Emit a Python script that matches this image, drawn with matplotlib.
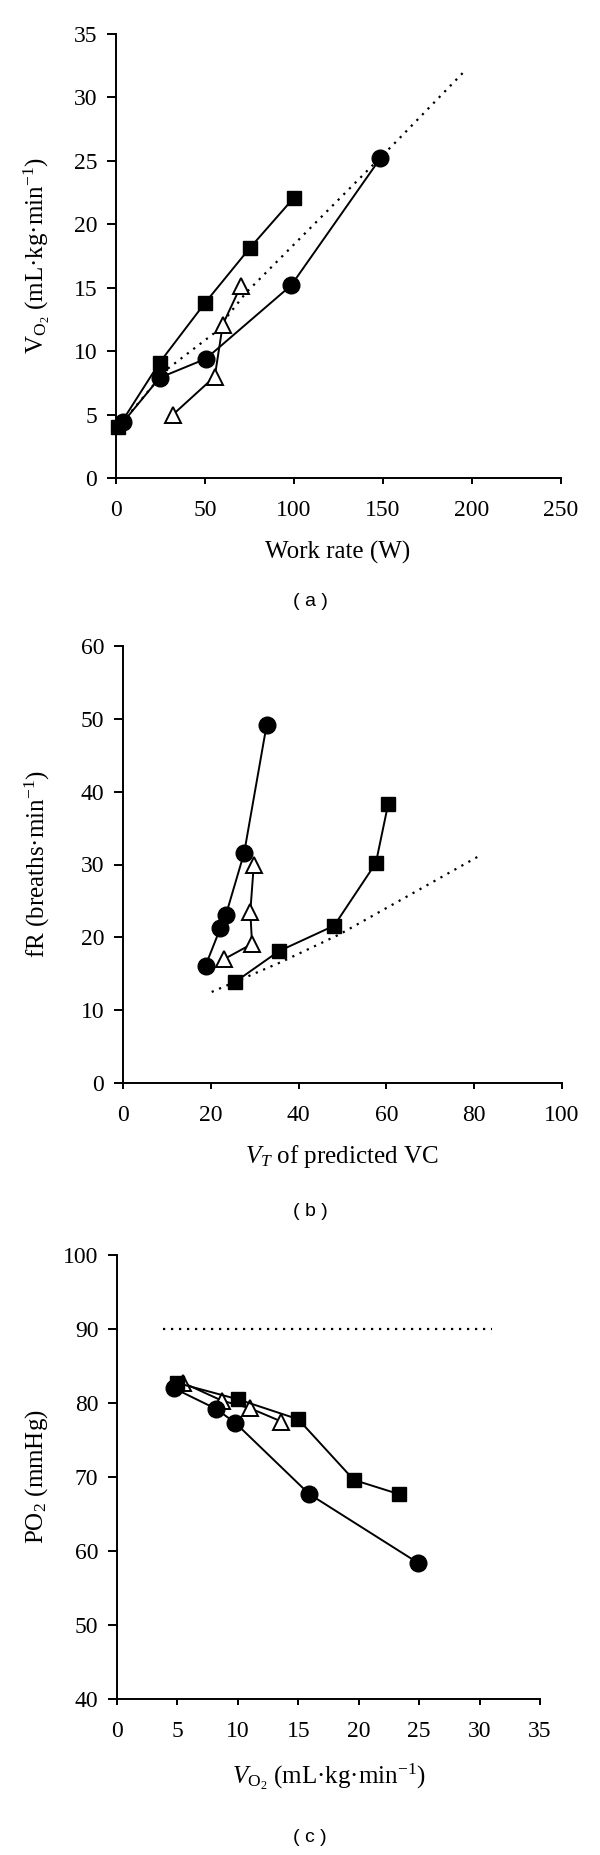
import matplotlib
matplotlib.use("Agg")
import matplotlib.pyplot as plt

plt.rcParams['font.family'] = ['Liberation Serif', 'DejaVu Serif']
plt.rcParams['mathtext.fontset'] = 'custom'
plt.rcParams['mathtext.rm'] = 'Liberation Serif'
plt.rcParams['mathtext.it'] = 'Liberation Serif:italic'

# (a) VO2 mot arbetsbelastning
a_sq_x = [1.3, 24.5, 50, 75, 100]
a_sq_y = [4.0, 9.1, 13.8, 18.1, 22.1]
a_ci_x = [4, 24.5, 50.5, 98.5, 148.5]
a_ci_y = [4.4, 7.9, 9.4, 15.2, 25.2]
a_tr_x = [32, 55.5, 60, 70]
a_tr_y = [5.0, 8.0, 12.1, 15.1]
a_pred_x = [3, 28, 55, 73, 158, 196]
a_pred_y = [4.3, 8.5, 11.4, 14.6, 26.6, 32.1]

# (b) andningsfrekvens mot VT
b_sq_x = [25.6, 35.5, 48.1, 57.6, 60.4]
b_sq_y = [13.9, 18.1, 21.6, 30.2, 38.3]
b_ci_x = [18.8, 22.2, 23.4, 27.6, 32.7]
b_ci_y = [16.1, 21.3, 23.0, 31.6, 49.1]
b_tr_x = [23.0, 29.4, 29.0, 29.8]
b_tr_y = [17.0, 19.1, 23.5, 30.0]
b_pred_x = [20.2, 36, 49.3, 81.5]
b_pred_y = [12.5, 16.6, 20.4, 31.3]

# (c) PO2 mot VO2
c_sq_x = [5.0, 10.0, 15.0, 19.6, 23.3]
c_sq_y = [82.7, 80.5, 77.8, 69.6, 67.7]
c_ci_x = [4.7, 8.2, 9.8, 15.9, 24.9]
c_ci_y = [82.0, 79.2, 77.3, 67.7, 58.4]
c_tr_x = [5.5, 8.7, 11.0, 13.6]
c_tr_y = [82.7, 80.3, 79.3, 77.5]
c_pred_x = [3.8, 31]
c_pred_y = [90, 90]

fig = plt.figure(figsize=(6, 18.55), dpi=100)
W, H = 600, 1855

def make_ax(left, right, top, bottom):
    ax = fig.add_axes([left / W, 1 - bottom / H, (right - left) / W, (bottom - top) / H])
    for s in ['top', 'right']:
        ax.spines[s].set_visible(False)
    for s in ['left', 'bottom']:
        ax.spines[s].set_linewidth(1.4)
    ax.tick_params(axis='y', direction='out', length=6.5, width=1.4, pad=7, labelsize=17)
    ax.tick_params(axis='x', direction='out', length=4.5, width=1.4, pad=11, labelsize=17)
    return ax

def draw(ax, sq, ci, tr, pred):
    ax.plot(pred[0], pred[1], color='black', lw=1.6, ls=(0, (1, 2.6)), clip_on=False)
    ax.plot(tr[0], tr[1], color='black', lw=1.4, marker='^', ms=12,
            mfc='white', mec='black', mew=1.4, clip_on=False, zorder=3)
    ax.plot(sq[0], sq[1], color='black', lw=1.4, marker='s', ms=10.5,
            mfc='black', mec='black', clip_on=False, zorder=3)
    ax.plot(ci[0], ci[1], color='black', lw=1.4, marker='o', ms=12,
            mfc='black', mec='black', clip_on=False, zorder=3)

# (a)
ax1 = make_ax(116, 561, 34, 478)
draw(ax1, (a_sq_x, a_sq_y), (a_ci_x, a_ci_y), (a_tr_x, a_tr_y), (a_pred_x, a_pred_y))
ax1.set_xlim(0, 250)
ax1.set_ylim(0, 35)
ax1.set_xticks(range(0, 251, 50))
ax1.set_yticks(range(0, 36, 5))

# (b)
ax2 = make_ax(123, 562, 646, 1083)
draw(ax2, (b_sq_x, b_sq_y), (b_ci_x, b_ci_y), (b_tr_x, b_tr_y), (b_pred_x, b_pred_y))
ax2.set_xlim(0, 100)
ax2.set_ylim(0, 60)
ax2.set_xticks(range(0, 101, 20))
ax2.set_yticks(range(0, 61, 10))

# (c)
ax3 = make_ax(117, 540, 1255, 1699)
draw(ax3, (c_sq_x, c_sq_y), (c_ci_x, c_ci_y), (c_tr_x, c_tr_y), (c_pred_x, c_pred_y))
ax3.set_xlim(0, 35)
ax3.set_ylim(40, 100)
ax3.set_xticks(range(0, 36, 5))
ax3.set_yticks(range(40, 101, 10))

# axeltexter
fig.text(37 / W, 1 - 256 / H, r'$\mathrm{V}_{\mathrm{O}_2}$ (mL·kg·min$^{-1}$)',
         rotation=90, ha='center', va='center', fontsize=18)
fig.text(338 / W, 1 - 552 / H, 'Work rate (W)', ha='center', va='center', fontsize=18)
fig.text(37 / W, 1 - 864 / H, r'fR (breaths·min$^{-1}$)',
         rotation=90, ha='center', va='center', fontsize=18)
fig.text(342 / W, 1 - 1157 / H, r'$V_T$ of predicted VC', ha='center', va='center', fontsize=18)
fig.text(37 / W, 1 - 1477 / H, r'PO$_2$ (mmHg)',
         rotation=90, ha='center', va='center', fontsize=18)
fig.text(329 / W, 1 - 1777 / H, r'$V_{\mathrm{O}_2}$ (mL·kg·min$^{-1}$)',
         ha='center', va='center', fontsize=18)

for lab, y in [('( a )', 602), ('( b )', 1212), ('( c )', 1838)]:
    fig.text(310 / W, 1 - y / H, lab, ha='center', va='center', fontsize=14,
             family=['Liberation Sans', 'DejaVu Sans'])

fig.savefig('out.png', dpi=100)
